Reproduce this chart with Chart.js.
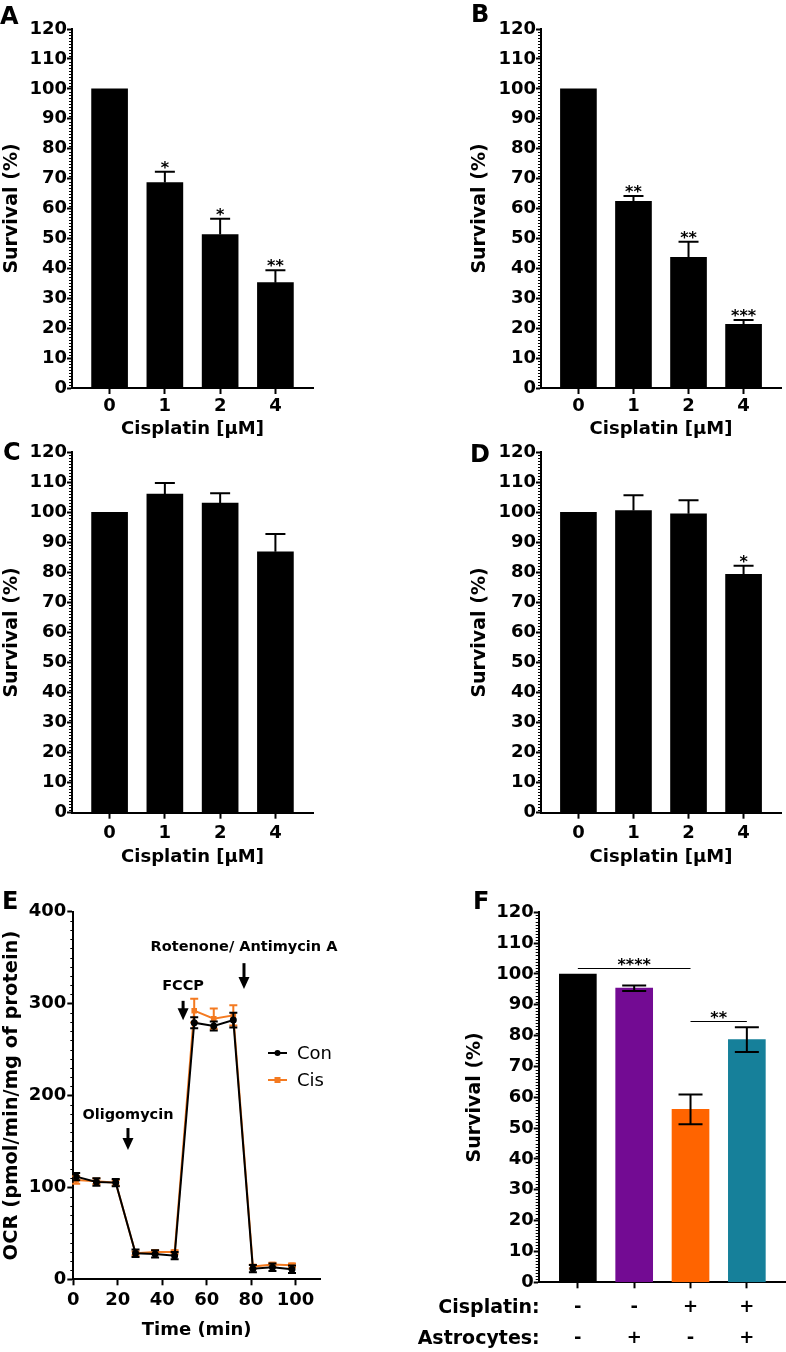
<!DOCTYPE html>
<html>
<head>
<meta charset="utf-8">
<script src="https://cdn.jsdelivr.net/npm/chart.js@4.4.1/dist/chart.umd.min.js"></script>
<style>
  body { margin: 0; background: #fff; width: 786px; height: 1352px; position: relative; overflow: hidden; }
  canvas { position: absolute; }
  .tag { position: absolute; font: bold 24px/24px "DejaVu Sans", sans-serif; color: #000; z-index: 2; }
</style>
</head>
<body>
<div class="tag" style="left:0;top:4px">A</div>
<div class="tag" style="left:471px;top:2px">B</div>
<div class="tag" style="left:3px;top:440px">C</div>
<div class="tag" style="left:470px;top:442px">D</div>
<div class="tag" style="left:2px;top:889px">E</div>
<div class="tag" style="left:473px;top:889px">F</div>

<canvas id="panelA" width="393" height="440" style="left:0;top:0"></canvas>
<canvas id="panelB" width="393" height="440" style="left:393px;top:0"></canvas>
<canvas id="panelC" width="393" height="430" style="left:0;top:440px"></canvas>
<canvas id="panelD" width="393" height="430" style="left:393px;top:440px"></canvas>
<canvas id="panelE" width="393" height="472" style="left:0;top:880px"></canvas>
<canvas id="panelF" width="393" height="472" style="left:393px;top:880px"></canvas>

<script>
// ---- data ----
const doseLabels = ['0', '1', '2', '4'];

const survivalA = [100, 68.7, 51.3, 35.2];
const errA = [0, 3.6, 5.3, 4.2];
const starsA = ['', '*', '*', '**'];

const survivalB = [100, 62.4, 43.7, 21.3];
const errB = [0, 1.8, 5.2, 1.4];
const starsB = ['', '**', '**', '***'];

const survivalC = [100, 106.1, 103.1, 86.9];
const errC = [0, 3.7, 3.3, 5.9];
const starsC = ['', '', '', ''];

const survivalD = [100, 100.6, 99.5, 79.4];
const errD = [0, 5.1, 4.5, 2.8];
const starsD = ['', '', '', '*'];

// panel E: Seahorse OCR trace
const timeMin = [1.3, 10.4, 19.1, 28, 36.8, 45.6, 54.4, 63.2, 72, 80.8, 89.6, 98.4];
const ocrCon = [111.7, 105.9, 105.2, 28.3, 27.6, 25.7, 279.2, 275.6, 282.1, 11.6, 13.1, 10.9];
const ocrConErr = [4, 4, 4, 4, 4, 4, 6, 5, 8, 4, 4, 4];
const ocrCis = [108, 106.6, 105, 28.3, 29.7, 29.7, 292.3, 283.6, 287.2, 13.8, 16, 15.2];
const ocrCisErr = [4, 3, 3, 2, 2, 2, 13, 11, 11, 2, 2, 2];
const timeTicks = [0, 20, 40, 60, 80, 100];
const injections = ['Oligomycin', 'FCCP', 'Rotenone/ Antimycin A'];
const injectionTime = [24.6, 49.4, 76.8];

// panel F: co-culture
const cisplatinSigns = ['-', '-', '+', '+'];
const astroSigns = ['-', '+', '-', '+'];
const survivalF = [100, 95.4, 56.1, 78.7];
const errF = [0, 0.9, 4.8, 4.0];
const compF = [[0, 2, 102, '****'], [2, 3, 84.8, '**']];

// ---- defaults ----
const FONT = '"DejaVu Sans", sans-serif';
Chart.defaults.font.family = FONT;
Chart.defaults.font.size = 18;
Chart.defaults.font.weight = 'bold';
Chart.defaults.color = '#000';
Chart.defaults.animation = false;
Chart.defaults.responsive = false;
Chart.defaults.devicePixelRatio = 1;
Chart.defaults.plugins.legend.display = false;
Chart.defaults.plugins.tooltip.enabled = false;

const ORANGE_E = '#f47a20';
const colorsF = ['#000000', '#730b93', '#ff6400', '#16809a'];

// ---- small plugins ----
function minorTicks(step, major, len) {
  return {
    id: 'minorTicks',
    afterDraw(chart) {
      const s = chart.scales.y, ctx = chart.ctx, x0 = chart.chartArea.left;
      ctx.save();
      ctx.strokeStyle = '#000';
      ctx.lineWidth = 1;
      for (let k = 0; k * step <= s.max; k++) {
        const v = k * step;
        if (v % major === 0) continue;
        const py = Math.round(s.getPixelForValue(v)) + 0.5;
        ctx.beginPath();
        ctx.moveTo(x0 - len, py);
        ctx.lineTo(x0, py);
        ctx.stroke();
      }
      ctx.restore();
    }
  };
}

// sets[i] -> error bars for dataset i
function errorBars(sets) {
  return {
    id: 'errorBars',
    afterDatasetDraw(chart, args) {
      const set = sets[args.index];
      if (!set) return;
      const ys = chart.scales.y, ctx = chart.ctx;
      const data = chart.data.datasets[args.index].data;
      ctx.save();
      ctx.strokeStyle = set.color;
      ctx.lineWidth = set.width;
      args.meta.data.forEach((el, i) => {
        const e = set.err[i];
        if (!e) return;
        const v = data[i].y;
        const top = ys.getPixelForValue(v + e);
        const bot = ys.getPixelForValue(set.both ? v - e : v);
        const h = set.cap / 2;
        ctx.beginPath();
        ctx.moveTo(el.x, bot); ctx.lineTo(el.x, top);
        ctx.moveTo(el.x - h, top); ctx.lineTo(el.x + h, top);
        if (set.both) { ctx.moveTo(el.x - h, bot); ctx.lineTo(el.x + h, bot); }
        ctx.stroke();
      });
      ctx.restore();
    }
  };
}

function starMarks(stars, values, errs) {
  return {
    id: 'starMarks',
    afterDatasetsDraw(chart) {
      const meta = chart.getDatasetMeta(0), ys = chart.scales.y, ctx = chart.ctx;
      ctx.save();
      ctx.font = 'bold 16px ' + FONT;
      ctx.textAlign = 'center';
      ctx.textBaseline = 'alphabetic';
      ctx.fillStyle = '#000';
      stars.forEach((s, i) => {
        if (!s) return;
        const y = ys.getPixelForValue(values[i] + errs[i]);
        ctx.fillText(s, meta.data[i].x, y + 1);
      });
      ctx.restore();
    }
  };
}

// ---- bar panels A-D ----
function barPanel(id, values, errs, stars, geo) {
  const edge = 0.68;
  new Chart(document.getElementById(id), {
    type: 'bar',
    data: {
      datasets: [{
        data: values.map((v, i) => ({ x: i, y: v })),
        backgroundColor: '#000',
        barThickness: 36
      }]
    },
    options: {
      layout: { padding: { top: geo.top, right: geo.right, bottom: 0, left: 0 } },
      scales: {
        x: {
          type: 'linear',
          offset: false,
          min: -edge,
          max: doseLabels.length - 1 + edge,
          afterBuildTicks: s => { s.ticks = doseLabels.map((_, i) => ({ value: i })); },
          afterFit: s => { s.height = geo.xh; },
          ticks: { callback: v => doseLabels[v], autoSkip: false, maxRotation: 0, padding: geo.xpad },
          grid: { offset: false, drawOnChartArea: false, tickLength: 6, tickWidth: 2, tickColor: '#000' },
          border: { color: '#000', width: 2 },
          title: { display: true, text: 'Cisplatin [μM]', padding: { top: 0, bottom: geo.tpad } }
        },
        y: {
          min: 0,
          max: 120,
          afterFit: s => { s.width = geo.yw; },
          ticks: { stepSize: 10, autoSkip: false, padding: 0 },
          grid: { drawOnChartArea: false, tickLength: 5, tickWidth: 2, tickColor: '#000' },
          border: { color: '#000', width: 2 },
          title: { display: true, text: 'Survival (%)', font: { size: 19 }, padding: { top: geo.ytpad, bottom: 0 } }
        }
      }
    },
    plugins: [
      minorTicks(1, 10, 3),
      errorBars([{ err: errs, color: '#000', width: 2, cap: 20, both: false }]),
      starMarks(stars, values, errs)
    ]
  });
}

barPanel('panelA', survivalA, errA, starsA, { top: 29, right: 80, xh: 52, xpad: 2, tpad: 0, yw: 72, ytpad: 0.5 });
barPanel('panelB', survivalB, errB, starsB, { top: 29, right: 5, xh: 52, xpad: 2, tpad: 0, yw: 148, ytpad: 75.5 });
barPanel('panelC', survivalC, errC, starsC, { top: 12.3, right: 80, xh: 57.3, xpad: 3.5, tpad: 2, yw: 72, ytpad: 0.5 });
barPanel('panelD', survivalD, errD, starsD, { top: 12.3, right: 5, xh: 57.3, xpad: 3.5, tpad: 2, yw: 148, ytpad: 75.5 });

// ---- panel E ----
const noteY = [
  { text: 178.8, from: 164.6, tip: 140.7 },
  { text: 319, from: 303, tip: 282 },
  { text: 361.6, from: 344, tip: 316 }
];

const notesE = {
  id: 'notesE',
  afterDraw(chart) {
    const { ctx } = chart;
    const xs = chart.scales.x, ys = chart.scales.y;
    ctx.save();
    ctx.fillStyle = '#000';
    ctx.strokeStyle = '#000';
    ctx.textAlign = 'center';
    ctx.textBaseline = 'middle';
    ctx.font = 'bold 14.5px ' + FONT;
    injections.forEach((name, i) => {
      const x = xs.getPixelForValue(injectionTime[i]);
      const ty = ys.getPixelForValue(noteY[i].text);
      ctx.fillText(name, x, ty);
      const y0 = ys.getPixelForValue(noteY[i].from);
      const y1 = ys.getPixelForValue(noteY[i].tip);
      ctx.lineWidth = 3;
      ctx.beginPath();
      ctx.moveTo(x, y0);
      ctx.lineTo(x, y1 - 11);
      ctx.stroke();
      ctx.beginPath();
      ctx.moveTo(x - 5.5, y1 - 12);
      ctx.lineTo(x + 5.5, y1 - 12);
      ctx.lineTo(x, y1);
      ctx.closePath();
      ctx.fill();
    });

    // legend
    const items = [['Con', '#000', 'circle', 173], ['Cis', ORANGE_E, 'rect', 200]];
    ctx.font = '18px ' + FONT;
    ctx.textAlign = 'left';
    items.forEach(([label, color, style, y]) => {
      ctx.strokeStyle = color;
      ctx.fillStyle = color;
      ctx.lineWidth = 2;
      ctx.beginPath();
      ctx.moveTo(268, y);
      ctx.lineTo(287, y);
      ctx.stroke();
      if (style === 'circle') {
        ctx.beginPath();
        ctx.arc(277.5, y, 3, 0, Math.PI * 2);
        ctx.fill();
      } else {
        ctx.fillRect(274.5, y - 3, 6, 6);
      }
      ctx.fillStyle = '#000';
      ctx.fillText(label, 297, y + 1);
    });
    ctx.restore();
  }
};

new Chart(document.getElementById('panelE'), {
  type: 'line',
  data: {
    datasets: [
      {
        label: 'Con',
        data: timeMin.map((t, i) => ({ x: t, y: ocrCon[i] })),
        borderColor: '#000',
        backgroundColor: '#000',
        borderWidth: 2,
        pointStyle: 'circle',
        pointRadius: 2.5,
        tension: 0
      },
      {
        label: 'Cis',
        data: timeMin.map((t, i) => ({ x: t, y: ocrCis[i] })),
        borderColor: ORANGE_E,
        backgroundColor: ORANGE_E,
        borderWidth: 2,
        pointStyle: 'rect',
        pointRadius: 2.5,
        tension: 0
      }
    ]
  },
  options: {
    layout: { padding: { top: 31.7, right: 73, bottom: 0, left: 0 } },
    scales: {
      x: {
        type: 'linear',
        min: 0,
        max: 111,
        afterBuildTicks: s => { s.ticks = timeTicks.map(v => ({ value: v })); },
        afterFit: s => { s.height = 72.7; },
        ticks: { autoSkip: false, maxRotation: 0, padding: 4 },
        grid: { drawOnChartArea: false, tickLength: 6, tickWidth: 2, tickColor: '#000' },
        border: { color: '#000', width: 2 },
        title: { display: true, text: 'Time (min)', padding: { top: 0, bottom: 11 } }
      },
      y: {
        min: 0,
        max: 400,
        afterFit: s => { s.width = 73.3; },
        ticks: { stepSize: 100, padding: 1 },
        grid: { drawOnChartArea: false, tickLength: 6, tickWidth: 2, tickColor: '#000' },
        border: { color: '#000', width: 2 },
        title: { display: true, text: 'OCR (pmol/min/mg of protein)', font: { size: 19.5 }, padding: { top: 0, bottom: 0 } }
      }
    }
  },
  plugins: [
    minorTicks(10, 100, 3),
    errorBars([
      { err: ocrConErr, color: '#000', width: 2, cap: 8, both: true },
      { err: ocrCisErr, color: ORANGE_E, width: 2, cap: 8, both: true }
    ]),
    notesE
  ]
});

// ---- panel F ----
const extrasF = {
  id: 'extrasF',
  afterDatasetsDraw(chart) {
    const { ctx } = chart;
    const meta = chart.getDatasetMeta(0), ys = chart.scales.y, xs = chart.scales.x;
    ctx.save();
    ctx.strokeStyle = '#000';
    ctx.fillStyle = '#000';
    ctx.lineWidth = 1;
    ctx.textAlign = 'center';
    ctx.textBaseline = 'alphabetic';
    ctx.font = 'bold 16px ' + FONT;
    compF.forEach(([a, b, level, txt]) => {
      const y = Math.round(ys.getPixelForValue(level)) + 0.5;
      const x0 = meta.data[a].x, x1 = meta.data[b].x;
      ctx.beginPath();
      ctx.moveTo(x0, y);
      ctx.lineTo(x1, y);
      ctx.stroke();
      ctx.fillText(txt, (x0 + x1) / 2, y + 1);
    });
    // row headers for the +/- table
    ctx.font = 'bold 19px ' + FONT;
    ctx.textAlign = 'right';
    ctx.textBaseline = 'middle';
    ctx.fillText('Cisplatin:', chart.chartArea.left + 1, xs.top + 25.5);
    ctx.fillText('Astrocytes:', chart.chartArea.left + 1, xs.top + 56.5);
    ctx.restore();
  }
};

new Chart(document.getElementById('panelF'), {
  type: 'bar',
  data: {
    datasets: [{
      data: survivalF.map((v, i) => ({ x: i, y: v })),
      backgroundColor: colorsF,
      barThickness: 37
    }]
  },
  options: {
    layout: { padding: { top: 32.3, right: 0, bottom: 0, left: 0 } },
    scales: {
      x: {
        type: 'linear',
        offset: false,
        min: -0.695,
        max: 3.695,
        afterBuildTicks: s => { s.ticks = survivalF.map((_, i) => ({ value: i })); },
        afterFit: s => { s.height = 69.7; },
        ticks: {
          callback: v => [cisplatinSigns[v], astroSigns[v]],
          autoSkip: false,
          maxRotation: 0,
          padding: 4,
          font: { size: 18, lineHeight: 31 / 18 }
        },
        grid: { offset: false, drawOnChartArea: false, tickLength: 6, tickWidth: 2, tickColor: '#000' },
        border: { color: '#000', width: 2 }
      },
      y: {
        min: 0,
        max: 120,
        afterFit: s => { s.width = 145.7; },
        ticks: { stepSize: 10, autoSkip: false, padding: 0 },
        grid: { drawOnChartArea: false, tickLength: 5, tickWidth: 2, tickColor: '#000' },
        border: { color: '#000', width: 2 },
        title: { display: true, text: 'Survival (%)', font: { size: 19 }, padding: { top: 70.5, bottom: 0 } }
      }
    }
  },
  plugins: [
    minorTicks(1, 10, 3),
    errorBars([{ err: errF, color: '#000', width: 2, cap: 24, both: true }]),
    extrasF
  ]
});
</script>
</body>
</html>
